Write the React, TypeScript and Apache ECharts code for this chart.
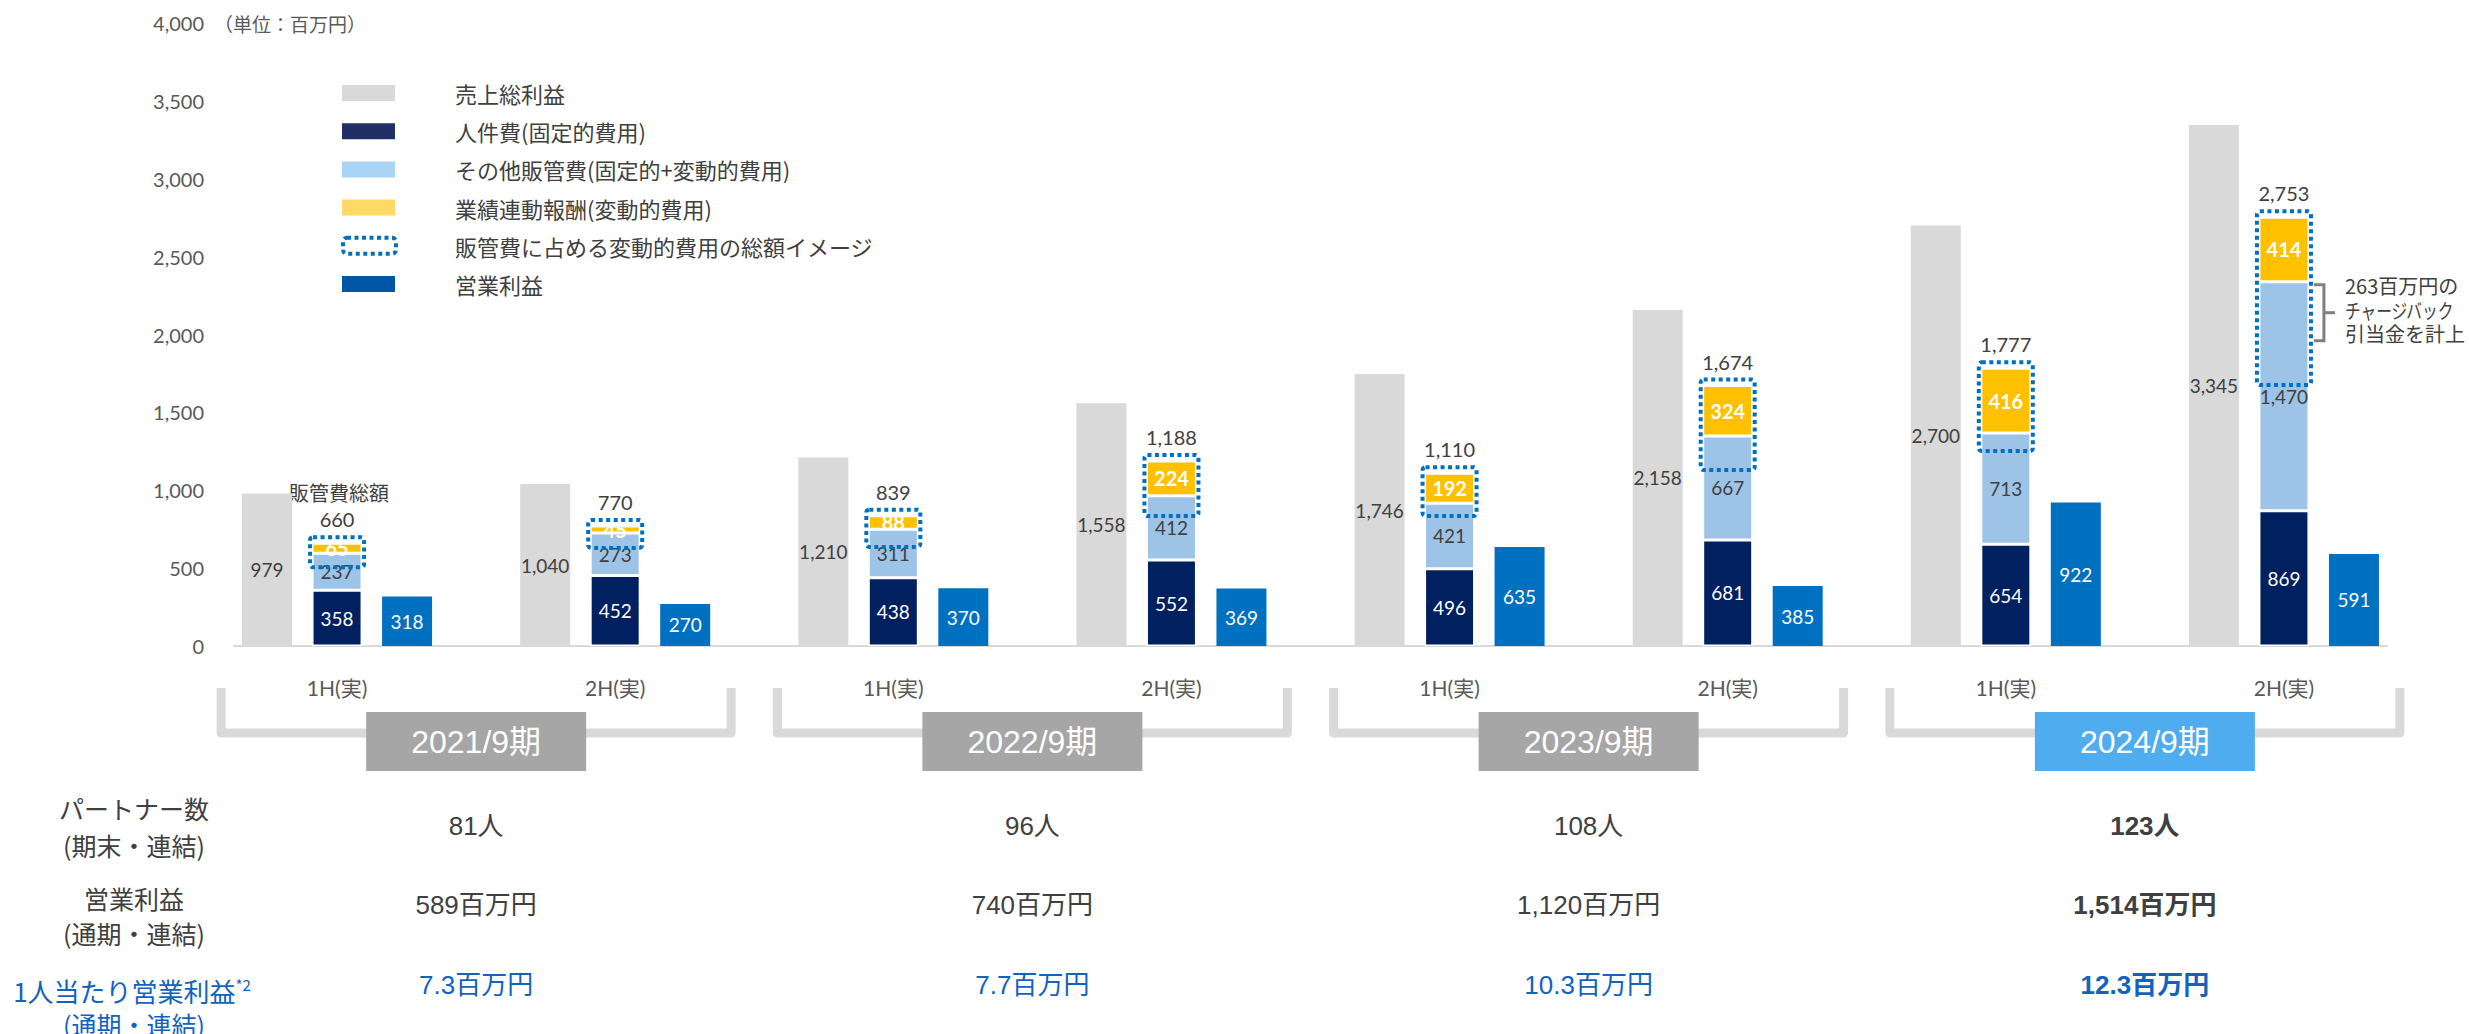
import React, { useEffect, useRef } from "react";
import * as echarts from "echarts";

const categories = [
  "2021/9期 1H", "2021/9期 2H", "2022/9期 1H", "2022/9期 2H",
  "2023/9期 1H", "2023/9期 2H", "2024/9期 1H", "2024/9期 2H",
];
const halfLabels = ["1H(実)", "2H(実)", "1H(実)", "2H(実)", "1H(実)", "2H(実)", "1H(実)", "2H(実)"];
const grossProfit = [979, 1040, 1210, 1558, 1746, 2158, 2700, 3345];
const personnel = [358, 452, 438, 552, 496, 681, 654, 869];
const otherSga = [237, 273, 311, 412, 421, 667, 713, 1470];
const performancePay = [65, 45, 88, 224, 192, 324, 416, 414];
const sgaTotalLabels = [660, 770, 839, 1188, 1110, 1674, 1777, 2753];
const variableCostLow = [505, 630, 636, 834, 834, 1130, 1252, 1675];
const operatingProfit = [318, 270, 370, 369, 635, 385, 922, 591];

const years = ["2021/9期", "2022/9期", "2023/9期", "2024/9期"];
const partners = [81, 96, 108, 123];
const fyOperatingProfit = [589, 740, 1120, 1514];
const profitPerPartner = [7.3, 7.7, 10.3, 12.3];

const legendLabels = [
  "売上総利益",
  "人件費(固定的費用)",
  "その他販管費(固定的+変動的費用)",
  "業績連動報酬(変動的費用)",
  "販管費に占める変動的費用の総額イメージ",
  "営業利益",
];
const legendColors = ["#D9D9D9", "#212F66", "#A8D4F6", "#FFD966", "", "#0055A5"];
const annotationLines = ["263百万円の", "チャージバック", "引当金を計上"];
const annotationWidths = [117, 110, 122];

const NUM_FONT = "Lato, 'Noto Sans CJK JP', sans-serif";
const JP_FONT = "'Noto Sans CJK JP', sans-serif";
const TBL_FONT = "'Liberation Sans', 'Noto Sans CJK JP', sans-serif";
const DARK = "#404040";
const BLUE_TEXT = "#1262BE";

const fmt = (v: number) => v.toLocaleString("en-US");

export default function App() {
  const ref = useRef<HTMLDivElement>(null);

  useEffect(() => {
    const el = ref.current!;
    const chart = echarts.init(el, null, { renderer: "svg" });
    const stackTop = personnel.map((p, i) => p + otherSga[i] + performancePay[i]);

    const barLabel = (color: string, bold = false, size = 19) => ({
      show: true,
      position: "inside",
      color,
      fontSize: size,
      fontFamily: NUM_FONT,
      fontWeight: bold ? "bold" : "normal",
      formatter: (p: any) => fmt(p.value),
    });

    chart.setOption({
      animation: false,
      grid: { left: 198, top: 23, width: 2225, height: 623, containLabel: false },
      xAxis: {
        type: "category",
        data: categories,
        axisLine: { show: false },
        axisTick: { show: false },
        splitLine: { show: false },
        axisLabel: {
          interval: 0,
          formatter: (_v: string, i: number) => halfLabels[i],
          margin: 31,
          fontSize: 21,
          color: "#595959",
          fontFamily: NUM_FONT,
        },
      },
      yAxis: {
        type: "value",
        min: 0,
        max: 4000,
        interval: 500,
        axisLine: { show: false },
        axisTick: { show: false },
        splitLine: { show: false },
        axisLabel: {
          formatter: (v: number) => fmt(v),
          fontSize: 20,
          color: "#595959",
          margin: -6,
          fontFamily: NUM_FONT,
        },
      },
      series: [
        {
          name: "売上総利益",
          type: "bar",
          stack: "gp",
          data: grossProfit,
          barWidth: 50,
          barGap: "40%",
          itemStyle: { color: "#D9D9D9" },
          label: barLabel(DARK),
        },
        {
          name: "人件費(固定的費用)",
          type: "bar",
          stack: "sga",
          data: personnel,
          barWidth: 50,
          barGap: "40%",
          itemStyle: { color: "#002060", borderColor: "#ffffff", borderWidth: 1.5 },
          label: barLabel("#ffffff"),
        },
        {
          name: "その他販管費(固定的+変動的費用)",
          type: "bar",
          stack: "sga",
          data: otherSga,
          barWidth: 50,
          barGap: "40%",
          itemStyle: { color: "#9DC3E6", borderColor: "#ffffff", borderWidth: 1.5 },
          label: barLabel(DARK),
        },
        {
          name: "業績連動報酬(変動的費用)",
          type: "bar",
          stack: "sga",
          data: performancePay,
          barWidth: 50,
          barGap: "40%",
          itemStyle: { color: "#FFC000", borderColor: "#ffffff", borderWidth: 1.5 },
          label: barLabel("#ffffff", true, 20),
        },
        {
          name: "営業利益",
          type: "bar",
          stack: "op",
          data: operatingProfit,
          barWidth: 50,
          barGap: "40%",
          itemStyle: { color: "#0070C0" },
          label: barLabel("#ffffff"),
        },
        {
          name: "販管費に占める変動的費用の総額イメージ",
          type: "custom",
          z: 5,
          clip: false,
          encode: { x: 0, y: [1, 2] },
          data: stackTop.map((t, i) => [i, variableCostLow[i], t]),
          renderItem: (params: any, api: any) => {
            const i = api.value(0);
            const x = api.coord([i, 0])[0];
            const yTop = api.coord([i, api.value(2)])[1];
            const yLo = api.coord([i, api.value(1)])[1];
            const w = 54;
            return {
              type: "group",
              children: [
                {
                  type: "rect",
                  shape: { x: x - w / 2, y: yTop - 6, width: w, height: yLo - yTop + 6, r: 3 },
                  style: { fill: "none", stroke: "#0070C0", lineWidth: 4, lineDash: [4, 3.5] },
                },
                {
                  type: "text",
                  x,
                  y: yTop - 24,
                  style: {
                    text: fmt(sgaTotalLabels[params.dataIndex]),
                    fill: DARK,
                    fontSize: 20,
                    fontFamily: NUM_FONT,
                    align: "center",
                    verticalAlign: "middle",
                  },
                },
              ],
            };
          },
        },
      ],
    });

    const P = (i: number, v: number) => chart.convertToPixel({ gridIndex: 0 }, [i, v]) as number[];
    const g: any[] = [];
    const baseY = P(0, 0)[1];
    const firstX = P(0, 0)[0];
    const lastX = P(categories.length - 1, 0)[0];

    // axis baseline
    g.push({
      type: "line",
      shape: { x1: firstX - 104, y1: baseY, x2: lastX + 104, y2: baseY },
      style: { stroke: "#D9D9D9", lineWidth: 2 },
    });

    // unit
    g.push({
      type: "text",
      x: 214,
      y: P(0, 4000)[1],
      style: { text: "（単位：百万円）", fill: "#595959", fontSize: 19, fontFamily: JP_FONT, align: "left", verticalAlign: "middle" },
    });

    // legend
    legendLabels.forEach((lab, k) => {
      const cy = 93 + k * 38.2;
      if (legendColors[k]) {
        g.push({ type: "rect", shape: { x: 342, y: cy - 8, width: 53, height: 16 }, style: { fill: legendColors[k] } });
      } else {
        g.push({
          type: "rect",
          shape: { x: 343, y: cy - 8, width: 53, height: 16, r: 4 },
          style: { fill: "none", stroke: "#0070C0", lineWidth: 4, lineDash: [4, 3.5] },
        });
      }
      g.push({
        type: "text",
        x: 455,
        y: cy,
        style: { text: lab, fill: DARK, fontSize: 22, fontFamily: JP_FONT, align: "left", verticalAlign: "middle" },
      });
    });

    // 販管費総額
    g.push({
      type: "text",
      x: P(0, 0)[0] + 2,
      y: P(0, stackTop[0])[1] - 24 - 27,
      style: { text: "販管費総額", fill: DARK, fontSize: 20, fontFamily: JP_FONT, align: "center", verticalAlign: "middle" },
    });

    // annotation bracket
    const ax = lastX;
    const aTop = P(categories.length - 1, personnel[7] + otherSga[7])[1] + 3;
    g.push({
      type: "polyline",
      shape: { points: [[ax + 30, aTop], [ax + 40, aTop], [ax + 40, aTop + 56], [ax + 30, aTop + 56]] },
      style: { stroke: "#7F7F7F", lineWidth: 3, fill: null },
    });
    g.push({
      type: "line",
      shape: { x1: ax + 40, y1: aTop + 28, x2: ax + 51, y2: aTop + 28 },
      style: { stroke: "#7F7F7F", lineWidth: 3 },
    });
    annotationLines.forEach((t, k) => {
      const natural = (t.replace(/[0-9]/g, "").length + (t.match(/[0-9]/g) || []).length * 0.55) * 20;
      g.push({
        type: "text",
        x: ax + 61,
        y: aTop + 1 + k * 24,
        scaleX: Math.min(1, annotationWidths[k] / natural),
        style: { text: t, fill: DARK, fontSize: 20, fontFamily: JP_FONT, align: "left", verticalAlign: "middle" },
      });
    });

    // year brackets, boxes and table values
    years.forEach((yr, k) => {
      const mid = (P(2 * k, 0)[0] + P(2 * k + 1, 0)[0]) / 2;
      g.push({
        type: "polyline",
        shape: { points: [[mid - 255, 688], [mid - 255, 733], [mid + 255, 733], [mid + 255, 688]] },
        style: { stroke: "#D9D9D9", lineWidth: 9, fill: null, lineJoin: "round" },
      });
      g.push({
        type: "rect",
        shape: { x: mid - 110, y: 712, width: 220, height: 59 },
        style: { fill: k === years.length - 1 ? "#4FADEF" : "#A6A6A6" },
      });
      g.push({
        type: "text",
        x: mid,
        y: 742,
        style: { text: yr, fill: "#ffffff", fontSize: 32, fontFamily: TBL_FONT, align: "center", verticalAlign: "middle" },
      });
      const bold = k === years.length - 1 ? "bold" : "normal";
      g.push({
        type: "text",
        x: mid,
        y: 826,
        style: { text: `${partners[k]}人`, fill: DARK, fontSize: 26, fontWeight: bold, fontFamily: TBL_FONT, align: "center", verticalAlign: "middle" },
      });
      g.push({
        type: "text",
        x: mid,
        y: 905,
        style: { text: `${fmt(fyOperatingProfit[k])}百万円`, fill: DARK, fontSize: 26, fontWeight: bold, fontFamily: TBL_FONT, align: "center", verticalAlign: "middle" },
      });
      g.push({
        type: "text",
        x: mid,
        y: 985,
        style: { text: `${profitPerPartner[k].toFixed(1)}百万円`, fill: BLUE_TEXT, fontSize: 26, fontWeight: bold, fontFamily: TBL_FONT, align: "center", verticalAlign: "middle" },
      });
    });

    // row labels
    const rowLabel = (text: string, y: number, color: string) => ({
      type: "text",
      x: 134,
      y,
      style: { text, fill: color, fontSize: 25, fontFamily: JP_FONT, align: "center", verticalAlign: "middle" },
    });
    g.push(rowLabel("パートナー数", 808, DARK));
    g.push(rowLabel("(期末・連結)", 845, DARK));
    g.push(rowLabel("営業利益", 898, DARK));
    g.push(rowLabel("(通期・連結)", 933, DARK));
    g.push({
      type: "text",
      x: 132,
      y: 990,
      style: {
        text: "1人当たり営業利益{sup|*2}",
        fill: BLUE_TEXT,
        fontSize: 26,
        fontFamily: JP_FONT,
        align: "center",
        verticalAlign: "middle",
        rich: { sup: { fontSize: 15, fill: BLUE_TEXT, fontFamily: JP_FONT, verticalAlign: "top" } },
      },
    });
    g.push(rowLabel("(通期・連結)", 1024, BLUE_TEXT));

    chart.setOption({ graphic: g });

    return () => chart.dispose();
  }, []);

  return (
    <div
      ref={ref}
      style={{ position: "fixed", left: 0, top: 0, width: 2469, height: 1034, background: "#ffffff" }}
    />
  );
}
